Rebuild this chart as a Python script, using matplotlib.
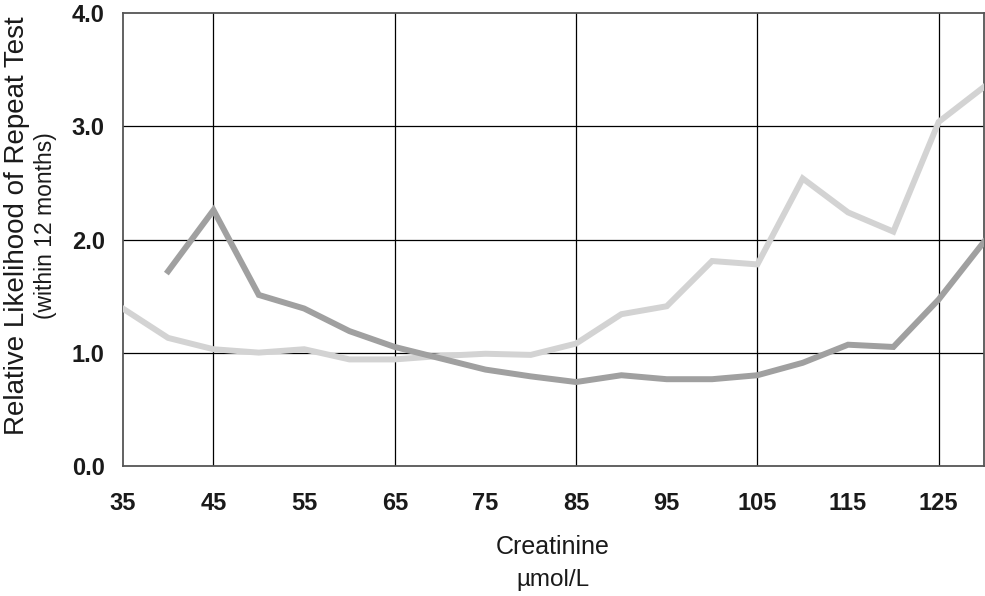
import matplotlib
matplotlib.use("Agg")
import matplotlib.pyplot as plt

plt.rcParams['font.family'] = ['Liberation Sans', 'DejaVu Sans']

# creatinine (umol/L)
creatinine = [35, 40, 45, 50, 55, 60, 65, 70, 75, 80, 85, 90, 95, 100, 105, 110, 115, 120, 125, 130]

# light grey series (starts at 35)
light = [1.39, 1.13, 1.03, 1.00, 1.03, 0.94, 0.94, 0.97, 0.99, 0.98, 1.08, 1.34, 1.41, 1.81, 1.78,
         2.54, 2.24, 2.07, 3.04, 3.35]
# dark grey series (starts at 40)
dark = [None, 1.72, 2.26, 1.51, 1.39, 1.19, 1.05, 0.95, 0.85, 0.79, 0.74, 0.80, 0.765, 0.765, 0.80,
        0.91, 1.07, 1.05, 1.47, 1.98]

xticks = [35, 45, 55, 65, 75, 85, 95, 105, 115, 125]
yticks = [0.0, 1.0, 2.0, 3.0, 4.0]
xgrid = [45, 65, 85, 105, 125]
ygrid = [1.0, 2.0, 3.0]

fig = plt.figure(figsize=(9.85, 5.96), dpi=100)
ax = fig.add_axes([0.1247, 0.2186, 0.8743, 0.759])

for g in xgrid:
    ax.axvline(g, color='black', lw=0.9, zorder=1)
for g in ygrid:
    ax.axhline(g, color='black', lw=0.9, zorder=1)

ax.plot(creatinine, light, color='#d3d3d3', lw=4.3, zorder=3, solid_joinstyle='miter')
dx = [x for x, v in zip(creatinine, dark) if v is not None]
dv = [v for v in dark if v is not None]
ax.plot(dx, dv, color='#a0a0a0', lw=4.3, zorder=4, solid_joinstyle='miter')

ax.set_xlim(35, 130)
ax.set_ylim(0, 4)
ax.set_xticks(xticks)
ax.set_yticks(yticks)
ax.set_yticklabels([f"{v:.1f}" for v in yticks])
ax.tick_params(axis='both', length=0, labelsize=17)
ax.tick_params(axis='x', pad=19)
ax.tick_params(axis='y', pad=13)
for lab in ax.get_xticklabels() + ax.get_yticklabels():
    lab.set_fontweight('bold')
    lab.set_color('#1a1a1a')

for s in ax.spines.values():
    s.set_color('#555555')
    s.set_linewidth(1.3)

fig.text(0.5614, 0.082, "Creatinine", ha='center', va='center', fontsize=18, color='#1a1a1a')
fig.text(0.5614, 0.027, "\u00b5mol/L", ha='center', va='center', fontsize=17.5, color='#1a1a1a')
fig.text(0.0175, 0.621, "Relative Likelihood of Repeat Test", rotation=90, ha='center', va='center',
         fontsize=20, color='#1a1a1a')
fig.text(0.046, 0.621, "(within 12 months)", rotation=90, ha='center', va='center',
         fontsize=16.5, color='#1a1a1a', family=['Liberation Sans Narrow', 'Liberation Sans', 'DejaVu Sans'])

fig.savefig("out.png", dpi=100)
